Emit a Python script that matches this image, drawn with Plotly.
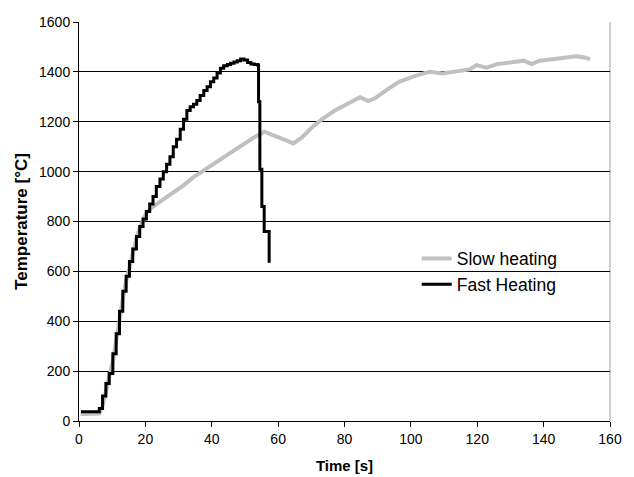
import plotly.graph_objects as go

# Slow heating series (time [s], temperature [°C])
slow_t = [0.5, 3, 6.1, 7.1, 8.1, 9.1, 10.2, 11.2, 12.2, 13.2, 14.2, 15.2, 16.2, 17.3, 18.3,
          19.3, 20.3, 22.3, 25.4, 28.4, 31.5, 34.5, 37.6, 40.6, 43.6, 46.7, 49.7, 52.8, 55.8,
          57.9, 60.9, 64.6, 67, 70, 73.6, 77.1, 81.2, 84.7, 87.2, 89.3, 92.4, 96.4, 101.5,
          105.6, 109.6, 112.7, 115.7, 117.7, 119.8, 122.8, 125.9, 129.9, 134, 136.4, 138.8,
          142.1, 146.2, 149.9, 152.3, 154]
slow_T = [28, 28, 30, 60, 120, 170, 240, 320, 410, 490, 560, 620, 680, 730, 775, 810, 835, 860,
          888, 915, 945, 978, 1005, 1035, 1060, 1088, 1110, 1138, 1160, 1150, 1133, 1113, 1135,
          1175, 1214, 1245, 1275, 1298, 1283, 1295, 1325, 1360, 1385, 1400, 1394, 1400, 1407,
          1410, 1427, 1417, 1431, 1438, 1445, 1431, 1445, 1450, 1457, 1463, 1458, 1451]

# Fast heating series
fast_t = [0.6, 2, 3, 4.1, 5.1, 6.1, 7.1, 8.1, 9.1, 10.2, 11.2, 12.2, 13.2, 14.2, 15.2, 16.2,
          17.3, 18.3, 19.3, 20.3, 21.3, 22.3, 23.3, 24.4, 25.4, 26.4, 27.4, 28.4, 29.4, 30.5,
          31.5, 32.5, 33.5, 34.5, 35.5, 36.5, 37.6, 38.6, 39.6, 40.6, 41.6, 42.6, 43.6, 44.7,
          45.7, 46.7, 47.7, 48.7, 49.7, 50.8, 51.8, 52.8, 53.8, 54.1, 54.5, 55.1, 55.8, 57.3]
fast_T = [37, 37, 37, 37, 37, 50, 100, 150, 190, 270, 350, 440, 520, 580, 640, 690, 740, 780,
          810, 840, 870, 900, 940, 970, 1000, 1030, 1060, 1100, 1130, 1170, 1210, 1245, 1260,
          1270, 1285, 1305, 1325, 1340, 1360, 1375, 1395, 1415, 1425, 1430, 1435, 1440, 1445,
          1452, 1448, 1438, 1432, 1430, 1428, 1280, 1010, 860, 760, 635]

x_ticks = [0, 20, 40, 60, 80, 100, 120, 140, 160]
y_ticks = [0, 200, 400, 600, 800, 1000, 1200, 1400, 1600]

font = "Liberation Sans, Arial, sans-serif"

fig = go.Figure()
fig.add_trace(go.Scatter(x=slow_t, y=slow_T, mode="lines", name="Slow heating",
                         legendgroup="a",
                         line=dict(color="#c0c0c0", width=4)))
fig.add_trace(go.Scatter(x=fast_t, y=fast_T, mode="lines", name="Fast Heating",
                         legendgroup="b",
                         line=dict(color="#000000", width=3, shape="hv")))

fig.update_layout(
    width=626, height=469,
    margin=dict(l=71, r=24, t=14, b=56),
    paper_bgcolor="white", plot_bgcolor="white",
    font=dict(family=font, size=14, color="black"),
    showlegend=True,
    legend=dict(x=0.636, y=0.452, xanchor="left", yanchor="top",
                bgcolor="rgba(0,0,0,0)", borderwidth=0,
                font=dict(family=font, size=17.5, color="black"),
                traceorder="grouped", tracegroupgap=0),
    xaxis=dict(range=[0, 160], tickvals=x_ticks, ticks="outside", ticklen=5,
               tickcolor="black", showline=True, linecolor="black", linewidth=1,
               showgrid=False, zeroline=False, automargin=False,
               tickfont=dict(family=font, size=14),
               title=dict(text="<b>Time [s]</b>", font=dict(family=font, size=15), standoff=14)),
    yaxis=dict(range=[0, 1600], tickvals=y_ticks, ticks="outside", ticklen=5,
               tickcolor="black", showline=True, linecolor="black", linewidth=1,
               showgrid=True, gridcolor="black", gridwidth=1, zeroline=False,
               automargin=False, tickfont=dict(family=font, size=14),
               title=dict(text="<b>Temperature [°C]</b>", font=dict(family=font, size=17), standoff=7)),
)

# right plot-area border (gray)
fig.add_shape(type="line", xref="paper", yref="paper", x0=1, x1=1, y0=0, y1=1,
              line=dict(color="#a0a0a0", width=1), layer="below")
# white legend box that interrupts the gridline behind the legend
fig.add_shape(type="rect", xref="paper", yref="paper", x0=0.657, x1=0.9115, y0=0.323, y1=0.436,
              fillcolor="white", line=dict(width=0), layer="between")

fig.write_html("out.html")
